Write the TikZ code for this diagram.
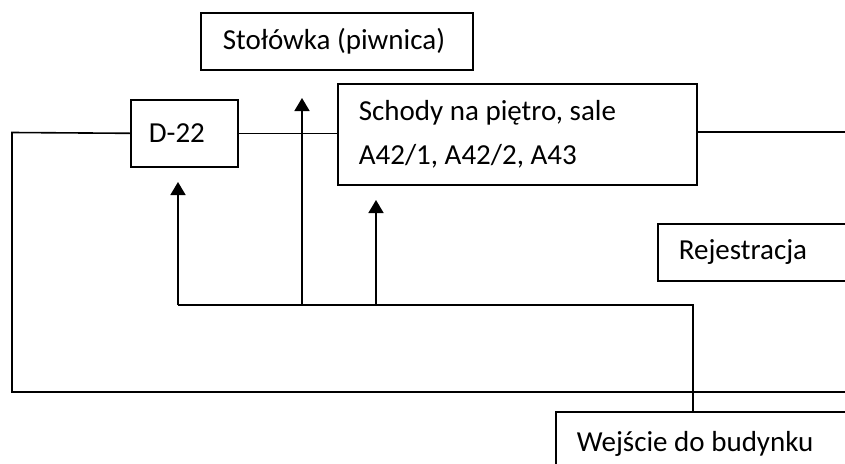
\documentclass[tikz,border=0pt]{standalone}
\usepackage{fontspec}
\setmainfont{Carlito}
\usetikzlibrary{arrows.meta}
\begin{document}
\begin{tikzpicture}[x=1pt,y=-1pt,
  box/.style={draw, line width=1.6pt, rectangle, anchor=north west, inner ysep=0pt,
    font=\fontsize{29}{44}\selectfont, execute at begin node={\spaceskip=6.6pt\relax\xspaceskip=6.6pt\relax}},
  conn/.style={line width=1.6pt},
  arr/.style={conn, -{Triangle[length=13pt,width=15pt]}}]
\useasboundingbox (0,0) rectangle (845,463);
\clip (0,0) rectangle (845,463);
\fill[white] (0,0) rectangle (845,463);
% boxes
\node[box, inner xsep=22pt, text width=228pt, minimum height=57pt] (st) at (200,12) {Stołówka (piwnica)};
\node[box, inner xsep=18pt, text width=71pt, minimum height=67pt] (d22) at (130,99) {D-22};
\node[box, inner xsep=21pt, text width=317pt, minimum height=101pt] (sch) at (337,83) {Schody na piętro, sale\\A42/1, A42/2, A43};
\node[box, inner xsep=21pt, text width=180pt, minimum height=57pt] (rej) at (657,223) {Rejestracja};
\node[box, inner xsep=21pt, text width=300pt, minimum height=64pt] (wej) at (555,411) {Wejście do budynku};
% coordinates
\coordinate (tl) at (12,132.5);
\coordinate (br) at (846,392);
\coordinate (re) at (846,132);
\coordinate (j) at (693,305);
\coordinate (ja) at (178,305);
\coordinate (jb) at (302,305);
\coordinate (jc) at (376,305);
\coordinate (ta) at (178,182);
\coordinate (tb) at (302,98);
\coordinate (tc) at (376,200);
% connectors
\draw[conn] (d22.west) -- (tl) |- (br);
\draw[conn] (d22.east) -- (d22.east -| sch.west);
\draw[conn] (sch.east |- re) -- (re);
\draw[conn] (wej.north -| j) -- (j) -- (ja);
\draw[arr] (ja) -- (ta);
\draw[arr] (jb) -- (tb);
\draw[arr] (jc) -- (tc);
\end{tikzpicture}
\end{document}
